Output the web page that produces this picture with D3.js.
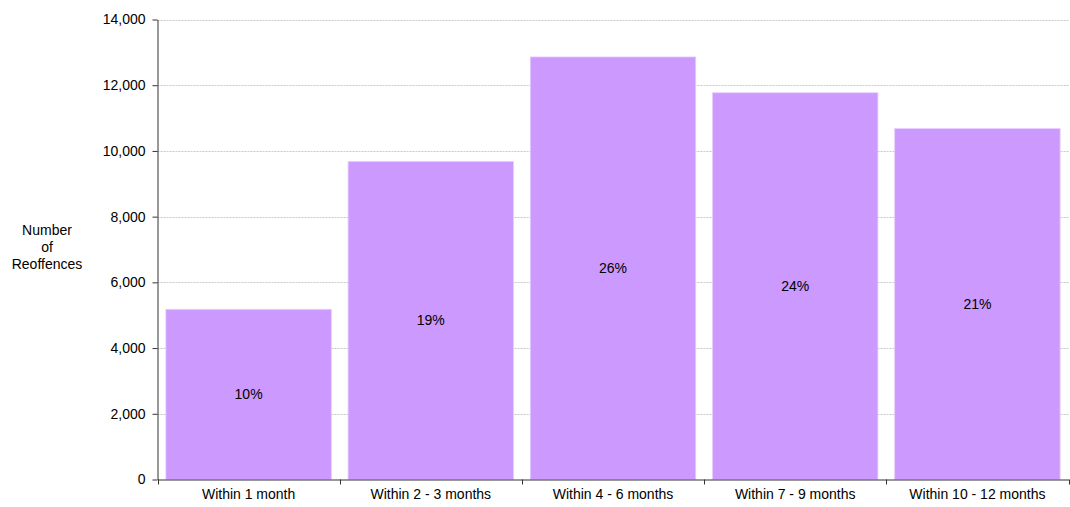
<!DOCTYPE html>
<html>
<head>
<meta charset="utf-8">
<script src="https://cdn.jsdelivr.net/npm/d3@7"></script>
<style>
  body { margin: 0; background: #fff; }
  text { font-family: "Liberation Sans", Arial, sans-serif; }
</style>
</head>
<body>
<svg id="chart"></svg>
<script>
const categories = ["Within 1 month", "Within 2 - 3 months", "Within 4 - 6 months", "Within 7 - 9 months", "Within 10 - 12 months"];
const reoffences = [5180, 9680, 12860, 11770, 10680];
const shares = ["10%", "19%", "26%", "24%", "21%"];
const yTicks = [0, 2000, 4000, 6000, 8000, 10000, 12000, 14000];

const ctx = {
  width: 1070,
  height: 507,
  margin: { top: 19.5, right: 1.5, bottom: 27.5, left: 157.5 }
};

const svg = d3.select("#chart")
  .attr("width", ctx.width)
  .attr("height", ctx.height);

const x = d3.scaleBand()
  .domain(categories)
  .range([ctx.margin.left, ctx.width - ctx.margin.right])
  .paddingInner(0)
  .paddingOuter(0);

const y = d3.scaleLinear()
  .domain([0, 14000])
  .range([ctx.height - ctx.margin.bottom, ctx.margin.top]);

const fmt = d3.format(",");
const inset = x.bandwidth() * 0.046;

// gridlines
svg.append("g")
  .selectAll("line")
  .data(yTicks.filter(d => d > 0))
  .join("line")
    .attr("x1", ctx.margin.left)
    .attr("x2", ctx.width - ctx.margin.right)
    .attr("y1", d => Math.round(y(d)) + 0.5)
    .attr("y2", d => Math.round(y(d)) + 0.5)
    .attr("stroke", "#c8c8c8")
    .attr("stroke-width", 1)
    .attr("stroke-dasharray", "2,1");

// bars
svg.append("g")
  .selectAll("rect")
  .data(reoffences)
  .join("rect")
    .attr("x", (d, i) => x(categories[i]) + inset)
    .attr("y", d => y(d))
    .attr("width", x.bandwidth() - 2 * inset)
    .attr("height", d => y(0) - y(d))
    .attr("fill", "#cc99ff")
    .attr("stroke", "#e6ccff")
    .attr("stroke-width", 0.8);

// percentage labels
svg.append("g")
  .selectAll("text")
  .data(reoffences)
  .join("text")
    .attr("x", (d, i) => x(categories[i]) + x.bandwidth() / 2)
    .attr("y", d => (y(d) + y(0)) / 2)
    .attr("dy", "0.35em")
    .attr("text-anchor", "middle")
    .attr("font-size", "14px")
    .attr("fill", "#000")
    .text((d, i) => shares[i]);

// y axis
const yAxis = svg.append("g")
  .attr("transform", `translate(${ctx.margin.left},0)`)
  .call(d3.axisLeft(y).tickValues(yTicks).tickFormat(fmt).tickSize(5).tickSizeOuter(0));
yAxis.select(".domain").attr("stroke", "#333");
yAxis.selectAll(".tick line").attr("stroke", "#333");
yAxis.selectAll(".tick text")
  .attr("font-family", "Liberation Sans, Arial, sans-serif")
  .attr("font-size", "14px")
  .attr("fill", "#000")
  .attr("x", -12);

// x axis
const xAxis = svg.append("g")
  .attr("transform", `translate(0,${y(0)})`)
  .call(d3.axisBottom(x).tickSize(0).tickSizeOuter(0));
xAxis.select(".domain").attr("stroke", "#333");
xAxis.selectAll(".tick text")
  .attr("font-family", "Liberation Sans, Arial, sans-serif")
  .attr("font-size", "14px")
  .attr("fill", "#000")
  .attr("y", 10);

// category boundary ticks
const bounds = categories.map(c => x(c)).concat([x(categories[categories.length - 1]) + x.bandwidth()]);
svg.append("g")
  .selectAll("line")
  .data(bounds)
  .join("line")
    .attr("x1", d => Math.round(d) + 0.5)
    .attr("x2", d => Math.round(d) + 0.5)
    .attr("y1", y(0))
    .attr("y2", y(0) + 5)
    .attr("stroke", "#333");

// y title
const title = svg.append("text")
  .attr("text-anchor", "middle")
  .attr("font-size", "14px")
  .attr("fill", "#000");
["Number", "of", "Reoffences"].forEach((t, i) => {
  title.append("tspan")
    .attr("x", 47)
    .attr("y", 235 + i * 17)
    .text(t);
});
</script>
</body>
</html>
